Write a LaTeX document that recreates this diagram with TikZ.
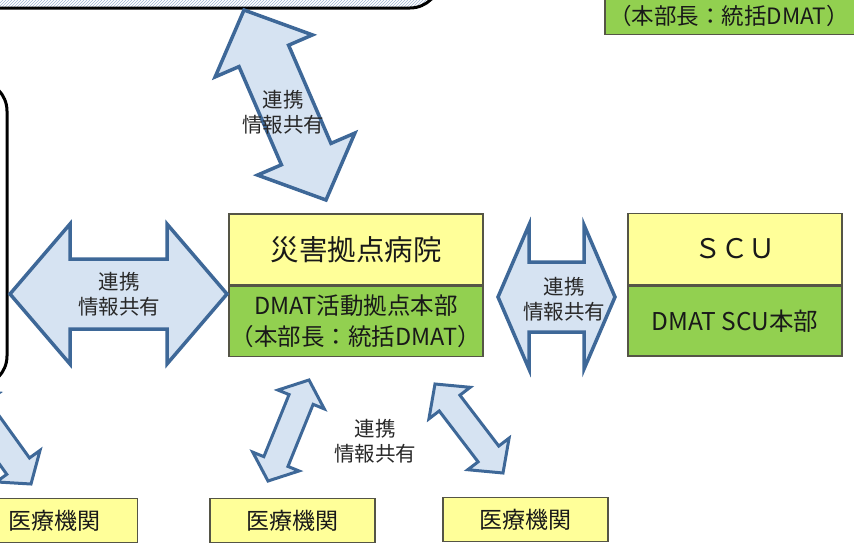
\documentclass[tikz,border=0pt]{standalone}
\usepackage{fontspec}
\setmainfont{Noto Sans CJK JP}
\usepackage{tikz}
\usetikzlibrary{positioning,calc,patterns}
\definecolor{boxyellow}{RGB}{255,255,153}
\definecolor{boxgreen}{RGB}{146,208,80}
\definecolor{boxline}{RGB}{85,85,70}
\definecolor{arrowfill}{RGB}{214,227,242}
\definecolor{arrowline}{RGB}{62,104,152}
\definecolor{hatchblue}{RGB}{160,180,210}
\definecolor{labeltext}{RGB}{40,40,40}
\tikzstyle{orgframe}=[rectangle, draw=black, line width=3pt, rounded corners=30pt]
\tikzstyle{hospbox}=[rectangle, draw=boxline, line width=1.5pt, fill=boxyellow,
        minimum width=254pt, minimum height=71pt, inner sep=0pt,
        text=black!90, font=\fontsize{28.5}{30}\selectfont]
\tikzstyle{hqbox}=[rectangle, draw=boxline, line width=1.5pt, fill=boxgreen,
        minimum width=254pt, minimum height=70pt, inner sep=0pt, align=center,
        text=black!90, font=\fontsize{23.5}{31}\selectfont]
\tikzstyle{medbox}=[rectangle, draw=boxline, line width=1.5pt, fill=boxyellow,
        minimum width=165pt, minimum height=44pt, inner sep=0pt,
        text=black!90, font=\fontsize{23}{26}\selectfont]
\tikzstyle{linklabel}=[align=center, text=labeltext, font=\fontsize{20.5}{25}\selectfont]
\tikzstyle{linkarrow}=[draw=arrowline, fill=arrowfill, line width=3.5pt]
% double block arrow: [opts]{from}{to}{head length}{head half width}{shaft half width}
\newcommand{\linkarrow}[6][]{%
  \coordinate (la1) at ($(#2)!#4!(#3)$);
  \coordinate (la2) at ($(#3)!#4!(#2)$);
  \draw [linkarrow,#1] (#2)
    -- ($(la1)!#5!90:(#3)$) -- ($(la1)!#6!90:(#3)$)
    -- ($(la2)!#6!90:(#3)$) -- ($(la2)!#5!90:(#3)$)
    -- (#3)
    -- ($(la2)!#5!-90:(#3)$) -- ($(la2)!#6!-90:(#3)$)
    -- ($(la1)!#6!-90:(#3)$) -- ($(la1)!#5!-90:(#3)$)
    -- cycle;}
\begin{document}
\begin{tikzpicture}[x=1pt, y=-1pt]
  \useasboundingbox (0,0) rectangle (854,549);
  \clip (0,0) rectangle (854,549);
  % Frames cut by the border
  \draw [orgframe, pattern=north east lines, pattern color=hatchblue] (-60,-80) rectangle (440,8);
  \draw [orgframe, fill=white] (-300,81) rectangle (7,386);
  % Place nodes
  \node [hospbox] (hosp) at (356,249.5) {災害拠点病院};
  \node [hqbox, below=0pt of hosp] (hosphq) {DMAT活動拠点本部\\（本部長：統括DMAT）};
  \node [hospbox, minimum width=214pt, font=\fontsize{27}{30}\selectfont] (scu) at (735,249) {ＳＣＵ};
  \node [hqbox, minimum width=214pt, font=\fontsize{24.5}{31}\selectfont, below=0pt of scu] (scuhq) {DMAT SCU本部};
  \node [hqbox, anchor=south west] (tophq) at (604,35) {};
  \node [text=black!90, font=\fontsize{22.5}{26}\selectfont] (tophqtext) at (729,16) {（本部長：統括DMAT）};
  \node [medbox] (med1) at (55,520.5) {医療機関};
  \node [medbox] (med2) at (292.5,520.5) {医療機関};
  \node [medbox] (med3) at (525.5,519.5) {医療機関};
  % Arrow ends
  \coordinate (topA) at (244,10);
  \coordinate (topB) at (326,200);
  \coordinate (leftA) at (10,294);
  \coordinate (leftB) at (227,294);
  \coordinate (midA) at (498,297);
  \coordinate (midB) at (615,297);
  \coordinate (blA) at (268,481);
  \coordinate (blB) at (309,380);
  \coordinate (brA) at (435,384);
  \coordinate (brB) at (503,473);
  \coordinate (flA) at (-36,391);
  \coordinate (flB) at (31,484);
  % Draw links
  \linkarrow{topA}{topB}{50pt}{53pt}{27pt}
  \linkarrow{leftA}{leftB}{60pt}{70pt}{35pt}
  \linkarrow{midA}{midB}{31pt}{72pt}{35pt}
  \linkarrow[line width=3pt]{blA}{blB}{21pt}{25pt}{13pt}
  \linkarrow[line width=3pt]{brA}{brB}{24pt}{26pt}{13pt}
  \linkarrow[line width=3pt]{flA}{flB}{22pt}{27pt}{14pt}
  % Labels
  \node [linklabel] (toplabel) at (283,112) {連携\\情報共有};
  \node [linklabel] (leftlabel) at (119,294) {連携\\情報共有};
  \node [linklabel] (midlabel) at (564,299) {連携\\情報共有};
  \node [linklabel] (botlabel) at (375,441) {連携\\情報共有};
\end{tikzpicture}
\end{document}
